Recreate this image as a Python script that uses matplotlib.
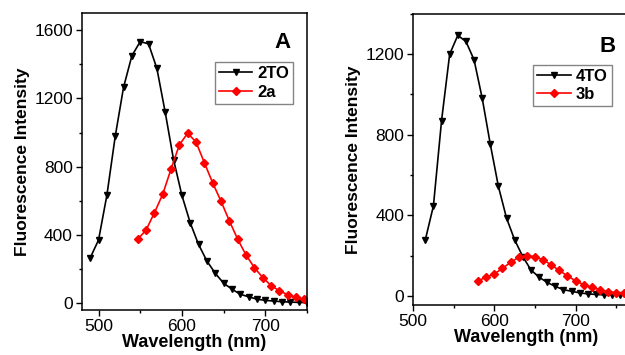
import matplotlib.pyplot as plt
from matplotlib.ticker import MultipleLocator

plt.rcParams['font.family'] = ['Liberation Sans', 'DejaVu Sans']

# panel A
wl_2TO = [490, 500, 510, 520, 530, 540, 550, 560, 570, 580, 590, 600, 610, 620,
          630, 640, 650, 660, 670, 680, 690, 700, 710, 720, 730, 740, 750]
fl_2TO = [265, 370, 632, 977, 1265, 1450, 1533, 1520, 1376, 1119, 841, 632, 471, 344,
          247, 175, 117, 82, 52, 37, 23, 16, 12, 8, 6, 4, 3]
wl_2a = [547, 557, 567, 577, 587, 597, 607, 617, 627, 637, 647, 657, 667, 677,
         687, 697, 707, 717, 727, 737, 747]
fl_2a = [374, 428, 529, 638, 786, 928, 996, 944, 823, 704, 597, 482, 374, 282,
         208, 150, 103, 72, 49, 33, 23]

# panel B
wl_4TO = [515, 525, 535, 545, 555, 565, 575, 585, 595, 605, 615, 625, 635, 645,
          655, 665, 675, 685, 695, 705, 715, 725, 735, 745, 755]
fl_4TO = [278, 447, 870, 1200, 1293, 1263, 1172, 982, 753, 543, 386, 278, 195, 129,
          93, 67, 47, 31, 23, 15, 10, 7, 5, 4, 3]
wl_3b = [580, 590, 600, 610, 620, 630, 640, 650, 660, 670, 680, 690, 700, 710,
         720, 730, 740, 750, 760]
fl_3b = [75, 93, 109, 137, 166, 192, 199, 195, 179, 154, 126, 99, 75, 55,
         43, 31, 20, 15, 12]

fig = plt.figure(figsize=(6.25, 3.55), dpi=100)
axA = fig.add_axes([0.131, 0.127, 0.360, 0.836])
axB = fig.add_axes([0.661, 0.141, 0.360, 0.820])


def style(ax, xlim, ylim, ymaj, ymin):
    ax.set_xlim(*xlim)
    ax.set_ylim(*ylim)
    ax.xaxis.set_major_locator(MultipleLocator(100))
    ax.xaxis.set_minor_locator(MultipleLocator(50))
    ax.yaxis.set_major_locator(MultipleLocator(ymaj))
    ax.yaxis.set_minor_locator(MultipleLocator(ymin))
    ax.tick_params(which='major', direction='out', length=4, width=1, labelsize=12.5,
                   top=False, right=False, pad=2.5)
    ax.tick_params(which='minor', direction='out', length=2.5, width=1,
                   top=False, right=False)
    for s in ax.spines.values():
        s.set_linewidth(1.1)
    ax.set_xlabel('Wavelength (nm)', fontsize=13, fontweight='bold', labelpad=0)
    ax.set_ylabel('Fluorescence Intensity', fontsize=12.5, fontweight='bold', labelpad=3)


def curves(ax, xk, yk, lk, xr, yr, lr):
    ax.plot(xk, yk, color='black', lw=1.2, marker='v', ms=5, label=lk)
    ax.plot(xr, yr, color='red', lw=1.2, marker='D', ms=4.5, label=lr)


def legend(ax, x, y):
    leg = ax.legend(loc='upper left', bbox_to_anchor=(x, y), fontsize=12,
                    frameon=True, fancybox=False, handlelength=2.0, handletextpad=0.3,
                    borderpad=0.25, labelspacing=0.2, borderaxespad=0)
    leg.get_frame().set_edgecolor('#666666')
    leg.get_frame().set_linewidth(1.0)
    for t in leg.get_texts():
        t.set_fontweight('bold')


curves(axA, wl_2TO, fl_2TO, '2TO', wl_2a, fl_2a, '2a')
style(axA, (480, 750), (-40, 1700), 400, 200)
axA.text(0.89, 0.90, 'A', transform=axA.transAxes, fontsize=16, fontweight='bold',
         ha='center', va='center')
legend(axA, 0.591, 0.835)

curves(axB, wl_4TO, fl_4TO, '4TO', wl_3b, fl_3b, '3b')
style(axB, (500, 777), (-45, 1400), 400, 200)
axB.spines['right'].set_visible(False)
axB.text(0.862, 0.887, 'B', transform=axB.transAxes, fontsize=16, fontweight='bold',
         ha='center', va='center')
legend(axB, 0.533, 0.825)

fig.savefig('out.png', dpi=100)
